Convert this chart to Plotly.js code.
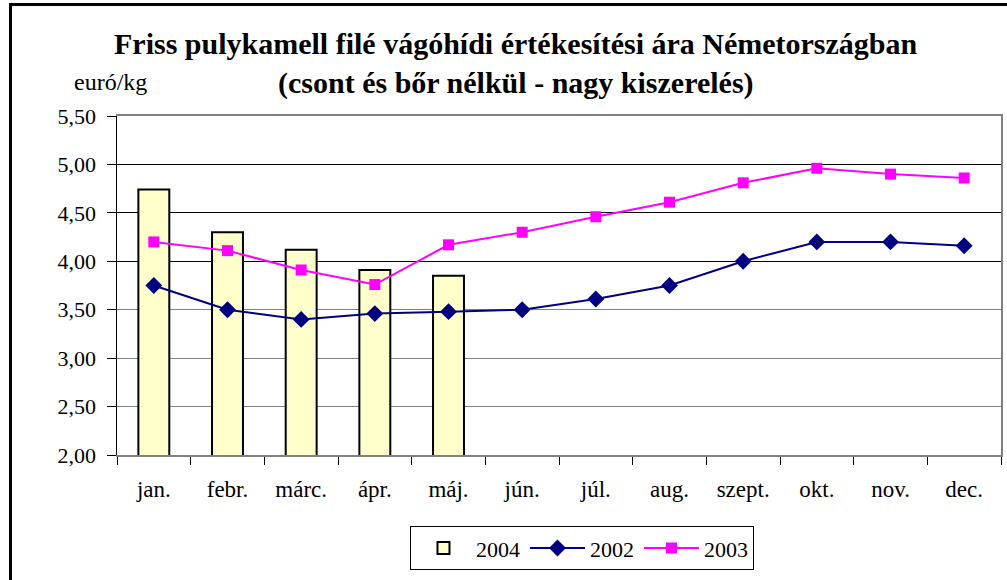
<!DOCTYPE html>
<html>
<head>
<meta charset="utf-8">
<script src="https://cdn.plot.ly/plotly-3.0.1.min.js"></script>
<style>
html,body{margin:0;padding:0;background:#fff;}
#wrap{position:relative;width:1007px;height:580px;overflow:hidden;}
#chart{width:1007px;height:580px;}
#frame{position:absolute;left:9px;top:3px;width:1100px;height:700px;border:3px solid #000;pointer-events:none;box-sizing:border-box;}
</style>
</head>
<body>
<div id="wrap"><div id="chart"></div><div id="frame"></div></div>
<script>
const months = ['jan.','febr.','márc.','ápr.','máj.','jún.','júl.','aug.','szept.','okt.','nov.','dec.'];
const y2004 = [4.74, 4.30, 4.12, 3.91, 3.85];
const y2002 = [3.75, 3.50, 3.40, 3.46, 3.48, 3.50, 3.61, 3.75, 4.00, 4.20, 4.20, 4.16];
const y2003 = [4.20, 4.11, 3.91, 3.76, 4.17, 4.30, 4.46, 4.61, 4.81, 4.96, 4.90, 4.86];
const yTicks = [2.0, 2.5, 3.0, 3.5, 4.0, 4.5, 5.0, 5.5];
const darkGridTicks = [4.0, 4.5, 5.0];
const titleLine1 = 'Friss pulykamell filé vágóhídi értékesítési ára Németországban';
const titleLine2 = '(csont és bőr nélkül - nagy kiszerelés)';
const unitLabel = 'euró/kg';

const serif = '"Liberation Serif", "Times New Roman", serif';

const traces = [
  {
    type: 'bar', name: '2004', x: months.slice(0, y2004.length), y: y2004,
    marker: {color: '#FFFFCC', line: {color: '#000', width: 2}},
    width: 0.42
  },
  {
    type: 'scatter', mode: 'lines+markers', name: '2002', x: months, y: y2002,
    line: {color: '#000080', width: 2},
    marker: {symbol: 'diamond', size: 13, color: '#000080'}
  },
  {
    type: 'scatter', mode: 'lines+markers', name: '2003', x: months, y: y2003,
    line: {color: '#FF00FF', width: 2},
    marker: {symbol: 'square', size: 11, color: '#FF00FF'}
  },
  {
    type: 'scatter', x: [months[0]], y: [null], yaxis: 'y2', showlegend: false, hoverinfo: 'skip'
  }
];

const layout = {
  width: 1007, height: 580,
  margin: {l: 117, r: 6, t: 116, b: 125},
  paper_bgcolor: '#fff', plot_bgcolor: '#fff',
  separators: ',.',
  font: {family: serif, size: 22, color: '#000'},
  showlegend: true,
  xaxis: {
    type: 'category', categoryorder: 'array', categoryarray: months,
    tickson: 'boundaries', ticks: 'outside', ticklen: 8, tickcolor: '#000',
    showline: true, linecolor: '#808080', linewidth: 2, mirror: true,
    showgrid: false, tickfont: {family: serif, size: 23}, ticklabelstandoff: 12,
    range: [-0.5, 11.5], fixedrange: true
  },
  yaxis: {
    range: [2, 5.5], tickvals: yTicks, tickformat: '.2f',
    ticks: 'outside', ticklen: 9, tickcolor: '#000',
    showline: true, linecolor: '#000', linewidth: 1.5,
    showgrid: true, gridcolor: '#808080', gridwidth: 1,
    zeroline: false, tickfont: {family: serif, size: 22}, ticklabelstandoff: 6,
    fixedrange: true
  },
  yaxis2: {
    overlaying: 'y', side: 'right', range: [2, 5.5], tickvals: darkGridTicks,
    showticklabels: false, ticks: '', showline: true, linecolor: '#808080', linewidth: 2,
    showgrid: true, gridcolor: '#000', gridwidth: 1, zeroline: false, fixedrange: true
  },
  legend: {
    orientation: 'h', x: 0.526, xanchor: 'center', y: -0.21, yanchor: 'top',
    bordercolor: '#000', borderwidth: 1, bgcolor: '#fff',
    font: {family: serif, size: 22}, itemwidth: 55, tracegroupgap: 0
  },
  annotations: [
    {text: '<b>' + titleLine1 + '</b>', xref: 'paper', yref: 'paper', x: 0.4514, y: 1.214,
     xanchor: 'center', yanchor: 'middle', showarrow: false, font: {family: serif, size: 30}},
    {text: '<b>' + titleLine2 + '</b>', xref: 'paper', yref: 'paper', x: 0.4514, y: 1.097,
     xanchor: 'center', yanchor: 'middle', showarrow: false, font: {family: serif, size: 30}},
    {text: unitLabel, xref: 'paper', yref: 'paper', x: -0.0079, y: 1.100,
     xanchor: 'center', yanchor: 'middle', showarrow: false, font: {family: serif, size: 24}}
  ]
};

Plotly.newPlot('chart', traces, layout, {displayModeBar: false, staticPlot: true});
</script>
</body>
</html>
